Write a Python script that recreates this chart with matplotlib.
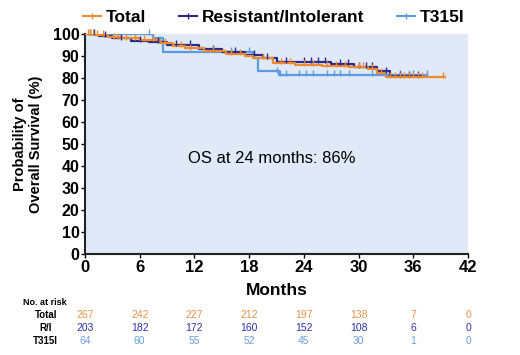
import numpy as np
import matplotlib
matplotlib.use("Agg")
import matplotlib.pyplot as plt
from matplotlib.transforms import blended_transform_factory
from matplotlib.lines import Line2D

plt.rcParams['font.family'] = ['Liberation Sans', 'DejaVu Sans']

# Kaplan-Meier steps (months, % surviving)
total_t = [0, 1.0, 2.5, 4.0, 6.0, 8.2, 9.6, 11.0, 13.0, 15.5, 17.5, 18.4, 20.6, 23.0, 26.0, 29.0, 31.0, 32.0, 33.0, 39.5]
total_s = [100, 99.5, 98.5, 98, 97.5, 96, 94.5, 93.5, 92.5, 91, 90, 89, 87, 86, 85.5, 85, 84, 82.5, 80.5, 80.5]
total_cens = [0.3, 0.6, 0.9, 1.3, 2.0, 3.2, 3.6, 4.5, 5.5, 6.5, 7.5, 8.8, 10.5, 11.5, 14.0, 16.0, 17.0,
              19.5, 21.5, 22.5, 24.0, 25.0, 26.5, 27.5, 28.5, 30.0, 30.5, 31.5, 32.5, 33.5, 34.0,
              34.5, 35.0, 35.5, 36.0, 36.5, 37.0, 39.3]

ri_t = [0, 1.5, 3.0, 5.0, 7.0, 9.0, 12.5, 15.0, 17.5, 19.5, 21.0, 27.0, 29.5, 32.0, 33.5, 37.0]
ri_s = [100, 99, 98, 97, 96.5, 95, 93, 92, 90.5, 89, 87.5, 86.5, 85, 83, 81, 81]
ri_cens = [0.5, 1.0, 2.2, 4.0, 6.0, 8.0, 10.0, 11.5, 14.0, 16.5, 18.5, 20.0, 22.0, 24.0, 24.8,
           25.5, 26.3, 28.0, 28.8, 30.0, 30.8, 31.5, 33.0, 34.5, 35.5, 36.5]

t315_t = [0, 7.5, 8.5, 18.4, 19.0, 21.3, 37.5]
t315_s = [100, 98, 92, 89, 83, 81.5, 81.5]
t315_cens = [7.0, 16.0, 18.0, 21.0, 21.4, 22.0, 23.5, 24.2, 25.0, 26.5, 27.3, 28.0, 29.0, 31.5,
             33.0, 34.5, 36.0, 37.5]

# number at risk
risk_months = [0, 6, 12, 18, 24, 30, 36, 42]
risk_total = [267, 242, 227, 212, 197, 138, 7, 0]
risk_ri = [203, 182, 172, 160, 152, 108, 6, 0]
risk_t315 = [64, 60, 55, 52, 45, 30, 1, 0]

c_total = '#f08a2c'
c_ri = '#2b2a8c'
c_t315 = '#5b9bdf'

fig = plt.figure(figsize=(5.2, 3.55), dpi=100)
ax = fig.add_axes([0.1635, 0.2845, 0.7365, 0.6197])
ax.set_facecolor('#dfe9f7')


def km(ax, t, s, cens, color, lw=1.6):
    ax.step(t, s, where='post', color=color, lw=lw, zorder=3)
    idx = np.searchsorted(t, cens, side='right') - 1
    ys = np.array(s)[idx]
    ax.plot(cens, ys + 0.8, ls='none', marker='|', ms=5, mew=1.0, color=color,
            zorder=4, clip_on=False)


km(ax, t315_t, t315_s, t315_cens, c_t315)
km(ax, ri_t, ri_s, ri_cens, c_ri)
km(ax, total_t, total_s, total_cens, c_total)

ax.set_xlim(0, 42)
ax.set_ylim(0, 100)
ax.set_xticks(range(0, 43, 6))
ax.set_yticks(range(0, 101, 10))
for sp in ['top', 'right']:
    ax.spines[sp].set_visible(False)
for sp in ['left', 'bottom']:
    ax.spines[sp].set_linewidth(1.5)
    ax.spines[sp].set_color('#222222')
ax.tick_params(axis='x', labelsize=12, length=3, width=1, pad=1)
ax.tick_params(axis='y', labelsize=11.5, length=3, width=1, pad=1)
for lab in ax.get_xticklabels() + ax.get_yticklabels():
    lab.set_fontweight('bold')

ax.set_xlabel('Months', fontsize=12.5, fontweight='bold', labelpad=6)
ax.set_ylabel('Probability of\nOverall Survival (%)', fontsize=10.5, fontweight='bold',
              labelpad=7, linespacing=1.15)

ax.text(20.5, 43.5, 'OS at 24 months: 86%', fontsize=12, ha='center', va='center')

handles = [Line2D([], [], color=c, lw=1.5, marker='|', ms=5) for c in (c_total, c_ri, c_t315)]
fig.legend(handles, ['Total', 'Resistant/Intolerant', 'T315I'], loc='center',
           bbox_to_anchor=(0.527, 0.952), ncol=3, frameon=False,
           prop={'weight': 'bold', 'size': 12.5}, handlelength=1.0, handletextpad=0.3,
           columnspacing=1.9)

# risk table
tr = blended_transform_factory(ax.transData, fig.transFigure)
fig.text(0.044, 0.147, 'No. at risk', fontsize=6.5, ha='left', va='center', fontweight='bold')
rows = [('Total', risk_total, '#e8934a', 0.113),
        ('R/I', risk_ri, '#2f2fb0', 0.076),
        ('T315I', risk_t315, '#6a9fe0', 0.039)]
for name, vals, col, y in rows:
    fig.text(0.088, y, name, fontsize=7, ha='center', va='center', fontweight='bold')
    for m, v in zip(risk_months, vals):
        ax.text(m, y, str(v), transform=tr, fontsize=7.5, color=col, ha='center', va='center',
                clip_on=False)

fig.savefig('out.png', dpi=100)
